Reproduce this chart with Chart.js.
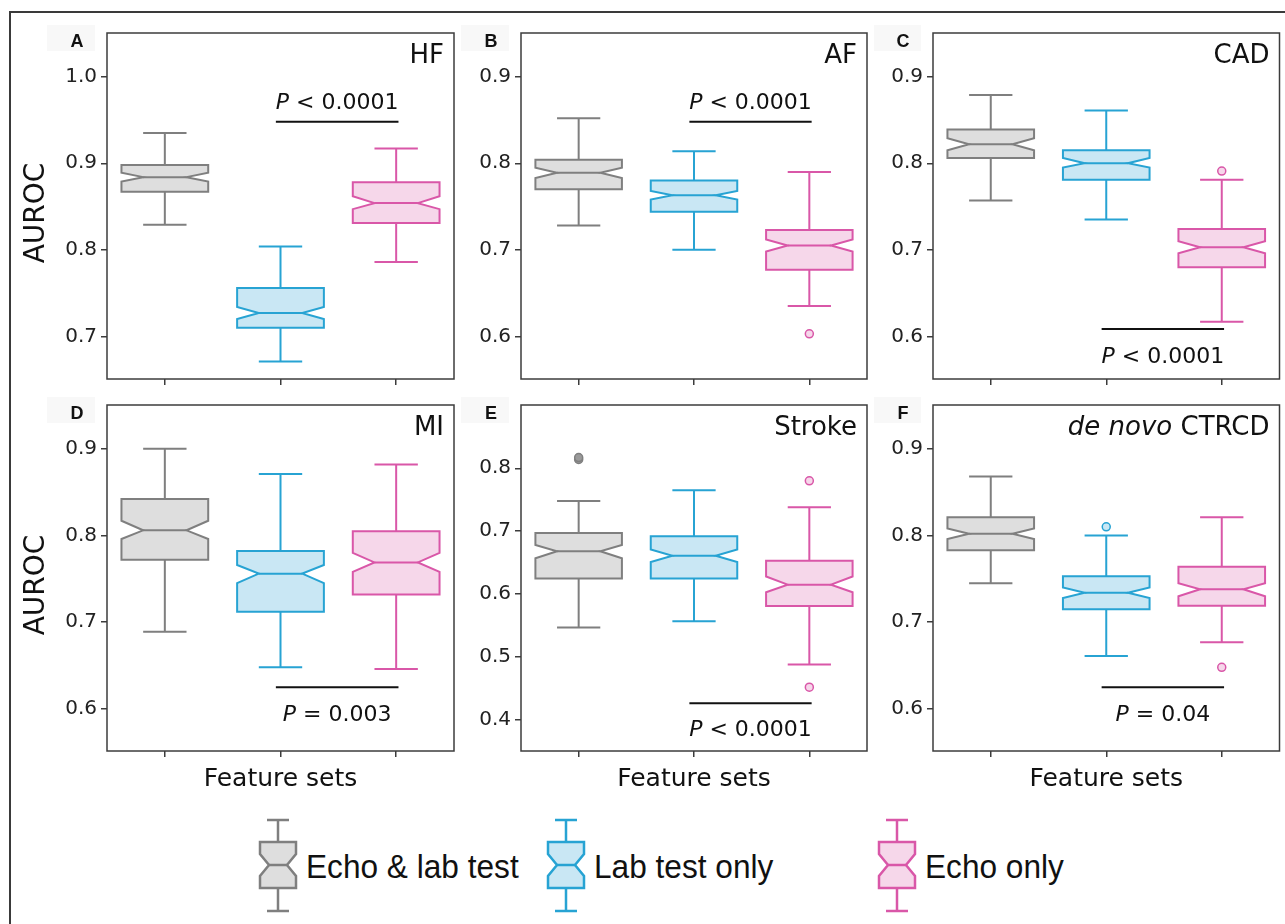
<!DOCTYPE html>
<html>
<head>
<meta charset="utf-8">
<script src="https://cdn.jsdelivr.net/npm/chart.js@4.4.0/dist/chart.umd.min.js"></script>
<style>
  body { margin: 0; background: #fff; width: 1285px; height: 924px; overflow: hidden; position: relative; }
  #frame { position: absolute; left: 9px; top: 11px; width: 1300px; height: 940px;
           border-left: 2.5px solid #3a3a3a; border-top: 2.5px solid #3a3a3a; }
  canvas.panel { position: absolute; }
  .leg-glyph { position: absolute; top: 817px; }
  .leg-text { position: absolute; top: 846px; font: 34px "Liberation Sans", Arial, sans-serif;
              line-height: 40px; color: #111; white-space: nowrap;
              transform: scaleX(0.93); transform-origin: left center; }
</style>
</head>
<body>
<div id="frame"></div>

<script>
// groups (same order in every panel)
const groupLabels = ['Echo & lab test', 'Lab test only', 'Echo only'];
const groupStroke = ['#7f7f7f', '#27a3d3', '#d957a8'];
const groupFill   = ['#dedede', '#c9e7f4', '#f6d7ea'];
const outlierFill = ['#9a9a9a', '#c9e7f4', '#f6d7ea'];

// A - HF
const hfWhiskerLow  = [0.829, 0.671, 0.786];
const hfQ1          = [0.867, 0.710, 0.831];
const hfNotchLow    = [0.879, 0.720, 0.847];
const hfMedian      = [0.884, 0.727, 0.854];
const hfNotchHigh   = [0.889, 0.734, 0.862];
const hfQ3          = [0.898, 0.756, 0.878];
const hfWhiskerHigh = [0.935, 0.804, 0.917];
const hfOutliers    = [[], [], []];
const hfTicks       = [0.7, 0.8, 0.9, 1.0];

// B - AF
const afWhiskerLow  = [0.728, 0.700, 0.635];
const afQ1          = [0.770, 0.744, 0.677];
const afNotchLow    = [0.783, 0.758, 0.698];
const afMedian      = [0.789, 0.763, 0.705];
const afNotchHigh   = [0.795, 0.768, 0.712];
const afQ3          = [0.804, 0.780, 0.723];
const afWhiskerHigh = [0.852, 0.814, 0.790];
const afOutliers    = [[], [], [0.603]];
const afTicks       = [0.6, 0.7, 0.8, 0.9];

// C - CAD
const cadWhiskerLow  = [0.757, 0.735, 0.617];
const cadQ1          = [0.806, 0.781, 0.680];
const cadNotchLow    = [0.815, 0.795, 0.696];
const cadMedian      = [0.822, 0.800, 0.703];
const cadNotchHigh   = [0.829, 0.806, 0.710];
const cadQ3          = [0.839, 0.815, 0.724];
const cadWhiskerHigh = [0.879, 0.861, 0.781];
const cadOutliers    = [[], [], [0.791]];
const cadTicks       = [0.6, 0.7, 0.8, 0.9];

// D - MI
const miWhiskerLow  = [0.689, 0.648, 0.646];
const miQ1          = [0.772, 0.712, 0.732];
const miNotchLow    = [0.796, 0.745, 0.758];
const miMedian      = [0.806, 0.756, 0.769];
const miNotchHigh   = [0.817, 0.766, 0.780];
const miQ3          = [0.842, 0.782, 0.805];
const miWhiskerHigh = [0.900, 0.871, 0.882];
const miOutliers    = [[], [], []];
const miTicks       = [0.6, 0.7, 0.8, 0.9];

// E - Stroke
const strokeWhiskerLow  = [0.547, 0.557, 0.488];
const strokeQ1          = [0.625, 0.625, 0.581];
const strokeNotchLow    = [0.657, 0.651, 0.603];
const strokeMedian      = [0.668, 0.661, 0.615];
const strokeNotchHigh   = [0.678, 0.671, 0.628];
const strokeQ3          = [0.697, 0.692, 0.653];
const strokeWhiskerHigh = [0.748, 0.765, 0.738];
const strokeOutliers    = [[0.814, 0.817], [], [0.780, 0.452]];
const strokeTicks       = [0.4, 0.5, 0.6, 0.7, 0.8];

// F - de novo CTRCD
const ctrcdWhiskerLow  = [0.745, 0.661, 0.677];
const ctrcdQ1          = [0.783, 0.715, 0.719];
const ctrcdNotchLow    = [0.796, 0.728, 0.730];
const ctrcdMedian      = [0.802, 0.734, 0.738];
const ctrcdNotchHigh   = [0.808, 0.740, 0.745];
const ctrcdQ3          = [0.821, 0.753, 0.764];
const ctrcdWhiskerHigh = [0.868, 0.800, 0.821];
const ctrcdOutliers    = [[], [0.810], [0.648]];
const ctrcdTicks       = [0.6, 0.7, 0.8, 0.9];

const BOX_WIDTH = 0.75;   // in category units (matplotlib style)
const FONT = '"DejaVu Sans", sans-serif';

const panels = [
  { letter: 'A', title: 'HF', box: [0, 0, 460, 392], pad: { top: 33, right: 6 }, yW: 107, xH: 13,
    yMin: 0.6508, yMax: 1.0505, ticks: hfTicks, yTitle: true, xTitle: false,
    stats: [hfWhiskerLow, hfQ1, hfNotchLow, hfMedian, hfNotchHigh, hfQ3, hfWhiskerHigh], outliers: hfOutliers,
    pRel: ' < 0.0001', pLine: 0.948, pBase: 0.963 },
  { letter: 'B', title: 'AF', box: [460, 0, 414, 392], pad: { top: 33, right: 7 }, yW: 61, xH: 13,
    yMin: 0.5508, yMax: 0.9505, ticks: afTicks, yTitle: false, xTitle: false,
    stats: [afWhiskerLow, afQ1, afNotchLow, afMedian, afNotchHigh, afQ3, afWhiskerHigh], outliers: afOutliers,
    pRel: ' < 0.0001', pLine: 0.848, pBase: 0.8625 },
  { letter: 'C', title: 'CAD', box: [874, 0, 411, 392], pad: { top: 33, right: 5 }, yW: 59, xH: 13,
    yMin: 0.5508, yMax: 0.9505, ticks: cadTicks, yTitle: false, xTitle: false,
    stats: [cadWhiskerLow, cadQ1, cadNotchLow, cadMedian, cadNotchHigh, cadQ3, cadWhiskerHigh], outliers: cadOutliers,
    pRel: ' < 0.0001', pLine: 0.6085, pBase: 0.569 },
  { letter: 'D', title: 'MI', box: [0, 392, 460, 408], pad: { top: 13, right: 6 }, yW: 107, xH: 49,
    yMin: 0.5515, yMax: 0.9505, ticks: miTicks, yTitle: true, xTitle: true,
    stats: [miWhiskerLow, miQ1, miNotchLow, miMedian, miNotchHigh, miQ3, miWhiskerHigh], outliers: miOutliers,
    pRel: ' = 0.003', pLine: 0.625, pBase: 0.5866 },
  { letter: 'E', title: 'Stroke', box: [460, 392, 414, 408], pad: { top: 13, right: 7 }, yW: 61, xH: 49,
    yMin: 0.3506, yMax: 0.9006, ticks: strokeTicks, yTitle: false, xTitle: true,
    stats: [strokeWhiskerLow, strokeQ1, strokeNotchLow, strokeMedian, strokeNotchHigh, strokeQ3, strokeWhiskerHigh], outliers: strokeOutliers,
    pRel: ' < 0.0001', pLine: 0.4266, pBase: 0.3747 },
  { letter: 'F', title: 'CTRCD', italicPrefix: 'de novo ', box: [874, 392, 411, 408], pad: { top: 13, right: 5 }, yW: 59, xH: 49,
    yMin: 0.5515, yMax: 0.9505, ticks: ctrcdTicks, yTitle: false, xTitle: true,
    stats: [ctrcdWhiskerLow, ctrcdQ1, ctrcdNotchLow, ctrcdMedian, ctrcdNotchHigh, ctrcdQ3, ctrcdWhiskerHigh], outliers: ctrcdOutliers,
    pRel: ' = 0.04', pLine: 0.625, pBase: 0.5866 }
];

// notched boxes + annotations, all placed through the chart scales
function panelPlugin(p) {
  return {
    id: 'panel' + p.letter,
    beforeDatasetsDraw(chart) {
      const { ctx } = chart;
      const xs = chart.scales.x, ys = chart.scales.y;
      const [wLo, q1, nLo, med, nHi, q3, wHi] = p.stats;
      ctx.save();
      ctx.lineWidth = 2;
      ctx.lineJoin = 'miter';
      med.forEach((m, i) => {
        const pos = i + 1;
        const cx = xs.getPixelForValue(pos);
        const hw = xs.getPixelForValue(pos + BOX_WIDTH / 2) - cx;
        const nw = hw / 2;
        const Y = v => ys.getPixelForValue(v);
        ctx.strokeStyle = groupStroke[i];
        ctx.fillStyle = groupFill[i];
        // whiskers and caps
        ctx.beginPath();
        ctx.moveTo(cx, Y(q3[i])); ctx.lineTo(cx, Y(wHi[i]));
        ctx.moveTo(cx - nw, Y(wHi[i])); ctx.lineTo(cx + nw, Y(wHi[i]));
        ctx.moveTo(cx, Y(q1[i])); ctx.lineTo(cx, Y(wLo[i]));
        ctx.moveTo(cx - nw, Y(wLo[i])); ctx.lineTo(cx + nw, Y(wLo[i]));
        ctx.stroke();
        // notched box
        ctx.beginPath();
        ctx.moveTo(cx - hw, Y(q1[i]));
        ctx.lineTo(cx - hw, Y(nLo[i]));
        ctx.lineTo(cx - nw, Y(m));
        ctx.lineTo(cx - hw, Y(nHi[i]));
        ctx.lineTo(cx - hw, Y(q3[i]));
        ctx.lineTo(cx + hw, Y(q3[i]));
        ctx.lineTo(cx + hw, Y(nHi[i]));
        ctx.lineTo(cx + nw, Y(m));
        ctx.lineTo(cx + hw, Y(nLo[i]));
        ctx.lineTo(cx + hw, Y(q1[i]));
        ctx.closePath();
        ctx.fill();
        ctx.stroke();
        // median
        ctx.beginPath();
        ctx.moveTo(cx - nw, Y(m)); ctx.lineTo(cx + nw, Y(m));
        ctx.stroke();
      });
      ctx.restore();
    },
    afterDraw(chart) {
      const { ctx, chartArea: a } = chart;
      const xs = chart.scales.x, ys = chart.scales.y;
      ctx.save();
      // letter with its faint backdrop
      ctx.fillStyle = '#f8f8f8';
      ctx.fillRect(a.left - 60, a.top - 8, 48, 26);
      ctx.fillStyle = '#111';
      ctx.font = 'bold 18px "Liberation Sans", Arial, sans-serif';
      ctx.textAlign = 'center';
      ctx.textBaseline = 'alphabetic';
      ctx.fillText(p.letter, a.left - 30, a.top + 14);
      // frame
      ctx.strokeStyle = '#3c3c3c';
      ctx.lineWidth = 1.5;
      ctx.strokeRect(a.left, a.top, a.right - a.left, a.bottom - a.top);
      // panel title, right aligned
      ctx.fillStyle = '#111';
      ctx.textAlign = 'left';
      ctx.font = '26px ' + FONT;
      const tw = ctx.measureText(p.title).width;
      let tx = a.right - 10 - tw;
      if (p.italicPrefix) {
        ctx.font = 'italic 26px ' + FONT;
        const iw = ctx.measureText(p.italicPrefix).width;
        ctx.fillText(p.italicPrefix, tx - iw, a.top + 30);
        ctx.font = '26px ' + FONT;
      }
      ctx.fillText(p.title, tx, a.top + 30);
      // significance bracket
      const x1 = xs.getPixelForValue(1.96), x2 = xs.getPixelForValue(3.02);
      const ly = ys.getPixelForValue(p.pLine);
      ctx.strokeStyle = '#111';
      ctx.lineWidth = 2;
      ctx.beginPath(); ctx.moveTo(x1, ly); ctx.lineTo(x2, ly); ctx.stroke();
      ctx.font = 'italic 22px ' + FONT;
      const pw = ctx.measureText('P').width;
      ctx.font = '22px ' + FONT;
      const rw = ctx.measureText(p.pRel).width;
      const sx = (x1 + x2) / 2 - (pw + rw) / 2;
      const by = ys.getPixelForValue(p.pBase);
      ctx.font = 'italic 22px ' + FONT;
      ctx.fillText('P', sx, by);
      ctx.font = '22px ' + FONT;
      ctx.fillText(p.pRel, sx + pw, by);
      ctx.restore();
    }
  };
}

panels.forEach(p => {
  const cv = document.createElement('canvas');
  cv.className = 'panel';
  const [l, t, w, h] = p.box;
  cv.width = w; cv.height = h;
  cv.style.left = l + 'px'; cv.style.top = t + 'px';
  cv.style.width = w + 'px'; cv.style.height = h + 'px';
  document.body.appendChild(cv);

  const datasets = groupLabels.map((g, i) => ({
    label: g,
    data: p.outliers[i].map(v => ({ x: i + 1, y: v })),
    pointRadius: 4,
    pointBorderWidth: 1.5,
    pointBackgroundColor: outlierFill[i],
    pointBorderColor: groupStroke[i],
    showLine: false
  }));

  new Chart(cv.getContext('2d'), {
    type: 'scatter',
    data: { datasets },
    options: {
      responsive: false,
      animation: false,
      devicePixelRatio: 1,
      layout: { padding: { top: p.pad.top, right: p.pad.right, bottom: 0, left: 0 } },
      plugins: { legend: { display: false }, tooltip: { enabled: false } },
      scales: {
        x: {
          type: 'linear', min: 0.5, max: 3.5,
          afterBuildTicks: s => { s.ticks = [1, 2, 3].map(v => ({ value: v })); },
          afterFit: s => { s.height = p.xH; s.paddingLeft = 0; s.paddingRight = 0; },
          grid: { drawOnChartArea: false, drawTicks: true, tickLength: 6, color: '#3c3c3c', lineWidth: 1.5 },
          border: { display: false },
          ticks: { callback: () => '', padding: 0 },
          title: { display: p.xTitle, text: 'Feature sets', color: '#111',
                   font: { family: FONT, size: 25 }, padding: { top: 0, bottom: 6 } }
        },
        y: {
          type: 'linear', min: p.yMin, max: p.yMax,
          afterBuildTicks: s => { s.ticks = p.ticks.map(v => ({ value: v })); },
          afterFit: s => { s.width = p.yW; s.paddingTop = 0; s.paddingBottom = 0; },
          grid: { drawOnChartArea: false, drawTicks: true, tickLength: 6, color: '#3c3c3c', lineWidth: 1.5 },
          border: { display: false },
          ticks: { color: '#222', padding: 4, font: { family: FONT, size: 20 },
                   callback: v => Number(v).toFixed(1) },
          // trailing en space nudges the rotated label a few px down, as in the original
          title: { display: p.yTitle, text: 'AUROC\u2002', color: '#111',
                   font: { family: FONT, size: 28 }, padding: { top: 20, bottom: 0 } }
        }
      }
    },
    plugins: [panelPlugin(p)]
  });
});

// legend: notched box glyphs + labels
const legendLeft = [258, 546, 877];
groupLabels.forEach((g, i) => {
  const c = document.createElement('canvas');
  c.className = 'leg-glyph';
  c.width = 40; c.height = 98;
  c.style.left = legendLeft[i] + 'px';
  document.body.appendChild(c);
  const ctx = c.getContext('2d');
  ctx.lineWidth = 2.5;
  ctx.strokeStyle = groupStroke[i];
  ctx.fillStyle = groupFill[i];
  ctx.beginPath();
  ctx.moveTo(9, 3); ctx.lineTo(31, 3); ctx.moveTo(20, 3); ctx.lineTo(20, 25);
  ctx.moveTo(9, 94); ctx.lineTo(31, 94); ctx.moveTo(20, 94); ctx.lineTo(20, 71);
  ctx.stroke();
  ctx.beginPath();
  ctx.moveTo(2, 71); ctx.lineTo(2, 59); ctx.lineTo(11, 48); ctx.lineTo(2, 37); ctx.lineTo(2, 25);
  ctx.lineTo(38, 25); ctx.lineTo(38, 37); ctx.lineTo(29, 48); ctx.lineTo(38, 59); ctx.lineTo(38, 71);
  ctx.closePath(); ctx.fill(); ctx.stroke();
  ctx.beginPath(); ctx.moveTo(11, 48); ctx.lineTo(29, 48); ctx.stroke();

  const t = document.createElement('div');
  t.className = 'leg-text';
  t.style.left = (legendLeft[i] + 48) + 'px';
  t.textContent = g;
  document.body.appendChild(t);
});
</script>
</body>
</html>
